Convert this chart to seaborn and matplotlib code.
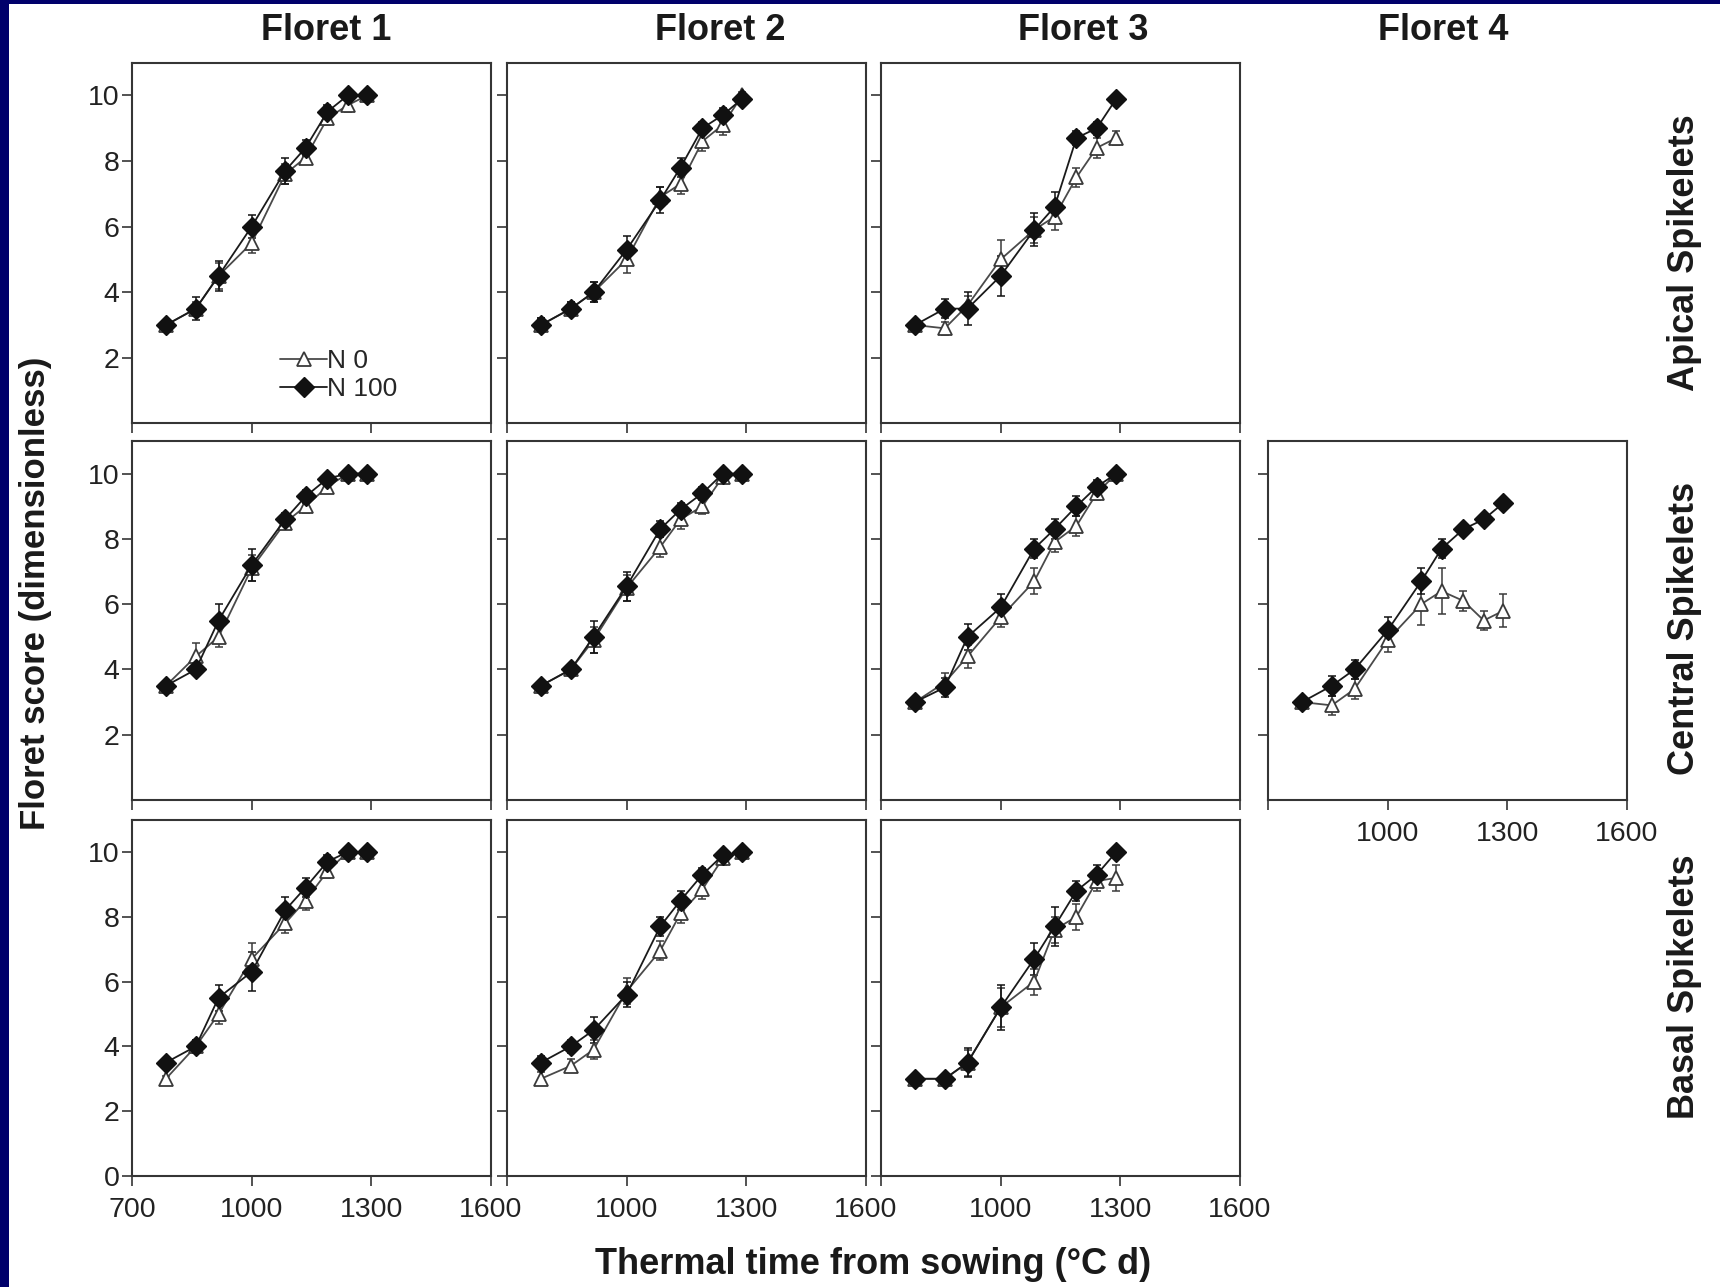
import matplotlib
matplotlib.use("Agg")
import numpy as np
import pandas as pd
import matplotlib.pyplot as plt
from matplotlib.lines import Line2D
from matplotlib.patches import Rectangle
import seaborn as sns

# ---------------------------------------------------------------------------
# Data: floret score vs thermal time, two nitrogen treatments
# ---------------------------------------------------------------------------
thermal_time = [785, 860, 917, 1000, 1084, 1135, 1190, 1241, 1290]
treatments = ["N 0", "N 100"]
positions = ["Apical Spikelets", "Central Spikelets", "Basal Spikelets"]
florets = ["Floret 1", "Floret 2", "Floret 3", "Floret 4"]
x_ticks = [700, 1000, 1300, 1600]

# Apical spikelets
apical_f1_n0 = [3.0, 3.5, 4.5, 5.5, 7.6, 8.1, 9.3, 9.7, 10.0]
apical_f1_n0_se = [0.1, 0.2, 0.4, 0.3, 0.3, 0.2, 0.2, 0.2, 0.05]
apical_f1_n100 = [3.0, 3.5, 4.5, 6.0, 7.7, 8.4, 9.5, 10.0, 10.0]
apical_f1_n100_se = [0.1, 0.35, 0.45, 0.35, 0.4, 0.25, 0.2, 0.1, 0.05]

apical_f2_n0 = [3.0, 3.5, 4.0, 5.0, 6.9, 7.3, 8.6, 9.1, 10.0]
apical_f2_n0_se = [0.2, 0.2, 0.3, 0.4, 0.3, 0.3, 0.3, 0.3, 0.1]
apical_f2_n100 = [3.0, 3.5, 4.0, 5.3, 6.8, 7.8, 9.0, 9.4, 9.9]
apical_f2_n100_se = [0.2, 0.2, 0.3, 0.4, 0.4, 0.3, 0.2, 0.2, 0.1]

apical_f3_n0 = [3.0, 2.9, 3.6, 5.0, 5.9, 6.3, 7.5, 8.4, 8.7]
apical_f3_n0_se = [0.1, 0.2, 0.3, 0.6, 0.4, 0.4, 0.3, 0.3, 0.2]
apical_f3_n100 = [3.0, 3.5, 3.5, 4.5, 5.9, 6.6, 8.7, 9.0, 9.9]
apical_f3_n100_se = [0.1, 0.3, 0.5, 0.6, 0.5, 0.45, 0.2, 0.2, 0.1]

# Central spikelets
central_f1_n0 = [3.5, 4.4, 5.0, 7.1, 8.5, 9.0, 9.6, 10.0, 10.0]
central_f1_n0_se = [0.15, 0.4, 0.3, 0.4, 0.2, 0.2, 0.2, 0.1, 0.05]
central_f1_n100 = [3.5, 4.0, 5.5, 7.2, 8.6, 9.3, 9.85, 10.0, 10.0]
central_f1_n100_se = [0.15, 0.15, 0.5, 0.5, 0.2, 0.2, 0.15, 0.1, 0.05]

central_f2_n0 = [3.5, 4.0, 4.9, 6.5, 7.75, 8.6, 9.0, 9.9, 10.0]
central_f2_n0_se = [0.1, 0.15, 0.4, 0.4, 0.3, 0.3, 0.25, 0.1, 0.05]
central_f2_n100 = [3.5, 4.0, 5.0, 6.55, 8.3, 8.9, 9.4, 10.0, 10.0]
central_f2_n100_se = [0.1, 0.15, 0.5, 0.45, 0.25, 0.2, 0.2, 0.1, 0.05]

central_f3_n0 = [3.0, 3.6, 4.4, 5.6, 6.7, 7.9, 8.4, 9.4, 10.0]
central_f3_n0_se = [0.15, 0.3, 0.35, 0.3, 0.4, 0.3, 0.3, 0.2, 0.1]
central_f3_n100 = [3.0, 3.45, 5.0, 5.9, 7.7, 8.3, 9.0, 9.6, 10.0]
central_f3_n100_se = [0.15, 0.3, 0.4, 0.4, 0.3, 0.3, 0.3, 0.2, 0.1]

central_f4_n0 = [3.0, 2.9, 3.4, 4.9, 6.0, 6.4, 6.1, 5.5, 5.8]
central_f4_n0_se = [0.1, 0.3, 0.3, 0.35, 0.65, 0.7, 0.3, 0.3, 0.5]
central_f4_n100 = [3.0, 3.5, 4.0, 5.2, 6.7, 7.7, 8.3, 8.6, 9.1]
central_f4_n100_se = [0.1, 0.3, 0.3, 0.4, 0.4, 0.3, 0.15, 0.15, 0.15]

# Basal spikelets
basal_f1_n0 = [3.0, 4.0, 5.0, 6.7, 7.8, 8.5, 9.4, 10.0, 10.0]
basal_f1_n0_se = [0.1, 0.2, 0.3, 0.5, 0.3, 0.3, 0.2, 0.1, 0.05]
basal_f1_n100 = [3.5, 4.0, 5.5, 6.3, 8.2, 8.9, 9.7, 10.0, 10.0]
basal_f1_n100_se = [0.1, 0.2, 0.4, 0.6, 0.4, 0.3, 0.2, 0.1, 0.05]

basal_f2_n0 = [3.0, 3.4, 3.9, 5.7, 6.95, 8.1, 8.85, 9.8, 10.0]
basal_f2_n0_se = [0.2, 0.2, 0.3, 0.4, 0.3, 0.3, 0.3, 0.2, 0.05]
basal_f2_n100 = [3.5, 4.0, 4.5, 5.6, 7.7, 8.5, 9.3, 9.9, 10.0]
basal_f2_n100_se = [0.2, 0.2, 0.4, 0.4, 0.3, 0.3, 0.2, 0.15, 0.05]

basal_f3_n0 = [3.0, 3.0, 3.5, 5.2, 6.0, 7.6, 8.0, 9.1, 9.2]
basal_f3_n0_se = [0.05, 0.05, 0.4, 0.6, 0.4, 0.4, 0.4, 0.3, 0.4]
basal_f3_n100 = [3.0, 3.0, 3.5, 5.2, 6.7, 7.7, 8.8, 9.3, 10.0]
basal_f3_n100_se = [0.05, 0.05, 0.45, 0.7, 0.5, 0.6, 0.3, 0.3, 0.1]

panels = {
    ("Apical Spikelets", "Floret 1"): (apical_f1_n0, apical_f1_n0_se, apical_f1_n100, apical_f1_n100_se),
    ("Apical Spikelets", "Floret 2"): (apical_f2_n0, apical_f2_n0_se, apical_f2_n100, apical_f2_n100_se),
    ("Apical Spikelets", "Floret 3"): (apical_f3_n0, apical_f3_n0_se, apical_f3_n100, apical_f3_n100_se),
    ("Central Spikelets", "Floret 1"): (central_f1_n0, central_f1_n0_se, central_f1_n100, central_f1_n100_se),
    ("Central Spikelets", "Floret 2"): (central_f2_n0, central_f2_n0_se, central_f2_n100, central_f2_n100_se),
    ("Central Spikelets", "Floret 3"): (central_f3_n0, central_f3_n0_se, central_f3_n100, central_f3_n100_se),
    ("Central Spikelets", "Floret 4"): (central_f4_n0, central_f4_n0_se, central_f4_n100, central_f4_n100_se),
    ("Basal Spikelets", "Floret 1"): (basal_f1_n0, basal_f1_n0_se, basal_f1_n100, basal_f1_n100_se),
    ("Basal Spikelets", "Floret 2"): (basal_f2_n0, basal_f2_n0_se, basal_f2_n100, basal_f2_n100_se),
    ("Basal Spikelets", "Floret 3"): (basal_f3_n0, basal_f3_n0_se, basal_f3_n100, basal_f3_n100_se),
}

records = []
for (pos, flo), (m0, s0, m1, s1) in panels.items():
    for trt, means, ses in ((treatments[0], m0, s0), (treatments[1], m1, s1)):
        for tt, m, s in zip(thermal_time, means, ses):
            records.append(dict(position=pos, floret=flo, treatment=trt,
                                tt=tt, score=m, se=s))
df = pd.DataFrame(records)

# ---------------------------------------------------------------------------
# Style
# ---------------------------------------------------------------------------
sns.set_style("ticks")
plt.rcParams["font.family"] = ["Liberation Sans", "DejaVu Sans"]

W, H = 1720, 1287
fig = plt.figure(figsize=(W / 100, H / 100), dpi=100)
fig.patch.set_facecolor("white")

col_left = [132, 507, 881, 1268]
panel_w = 359
row_top = [62.5, 441, 819.5]
row_bot = [423.5, 800, 1176]

spine_col = "#353535"
styles = {
    "N 0": dict(marker="^", markersize=10, markerfacecolor="white",
                markeredgecolor="#3a3a3a", markeredgewidth=1.3,
                color="#4a4a4a", linewidth=1.3),
    "N 100": dict(marker="D", markersize=10.5, markerfacecolor="#111111",
                  markeredgecolor="#111111", markeredgewidth=1.0,
                  color="#1a1a1a", linewidth=1.3),
}

for (pos, flo) in panels:
    r = positions.index(pos)
    c = florets.index(flo)
    ax = fig.add_axes([col_left[c] / W, 1 - row_bot[r] / H,
                       panel_w / W, (row_bot[r] - row_top[r]) / H])
    sub = df[(df.position == pos) & (df.floret == flo)]
    for trt in treatments:
        d = sub[sub.treatment == trt]
        st = styles[trt]
        ax.errorbar(d.tt, d.score, yerr=d.se, fmt="none",
                    ecolor=st["markeredgecolor"], elinewidth=1.1,
                    capsize=3, capthick=1.1, zorder=2)
        sns.lineplot(data=d, x="tt", y="score", ax=ax, errorbar=None,
                     legend=False, zorder=3, **st)

    ax.set_xlim(700, 1600)
    ax.set_ylim(0, 11)
    ax.set_xticks(x_ticks)
    ax.set_yticks([0, 2, 4, 6, 8, 10] if r == 2 else [2, 4, 6, 8, 10])
    ax.set_xlabel("")
    ax.set_ylabel("")
    for sp in ax.spines.values():
        sp.set_visible(True)
        sp.set_color(spine_col)
        sp.set_linewidth(1.5)
    ax.tick_params(direction="out", length=7, width=1.2, color=spine_col,
                   labelsize=20.5, labelcolor="#222222")
    ax.tick_params(axis="x", pad=8)
    ax.tick_params(axis="y", pad=2)
    if c != 0:
        ax.set_yticklabels([])
    if r == 2 or (r == 1 and c == 3):
        if c == 0:
            ax.set_xticklabels([str(t) for t in x_ticks])
        else:
            ax.set_xticklabels([""] + [str(t) for t in x_ticks[1:]])
    else:
        ax.set_xticklabels([])

    if r == 0 and c == 0:
        handles = [Line2D([], [], **styles[t]) for t in treatments]
        ax.legend(handles, treatments, loc="lower left",
                  bbox_to_anchor=(0.375, 0.025), frameon=False, fontsize=19,
                  handlelength=1.8, handletextpad=0.0, labelspacing=0.15,
                  borderpad=0.0)

# Column and row headings
title_x = [326, 720, 1083, 1443]
for flo, tx in zip(florets, title_x):
    fig.text(tx / W, 1 - 31 / H, flo, ha="center", va="center",
             fontsize=26, fontweight="bold", color="#1a1a1a")

row_label_y = [253, 628, 987]
for pos, ty in zip(positions, row_label_y):
    fig.text(1684 / W, 1 - ty / H, pos, ha="center", va="center",
             rotation=90, fontsize=26, fontweight="bold", color="#1a1a1a")

fig.text(36 / W, 1 - 593 / H, "Floret score (dimensionless)", ha="center",
         va="center", rotation=90, fontsize=25, fontweight="bold",
         color="#1a1a1a")
fig.text(873 / W, 1 - 1265 / H, "Thermal time from sowing (°C d)",
         ha="center", va="center", fontsize=26, fontweight="bold",
         color="#1a1a1a")

# Slide frame on the left and top edges
navy = "#00006b"
fig.add_artist(Rectangle((0, 0), 9 / W, 1, transform=fig.transFigure,
                         facecolor=navy, edgecolor="none", zorder=10))
fig.add_artist(Rectangle((0, 1 - 4 / H), 1, 4 / H, transform=fig.transFigure,
                         facecolor=navy, edgecolor="none", zorder=10))

fig.savefig("out.png", dpi=100)
